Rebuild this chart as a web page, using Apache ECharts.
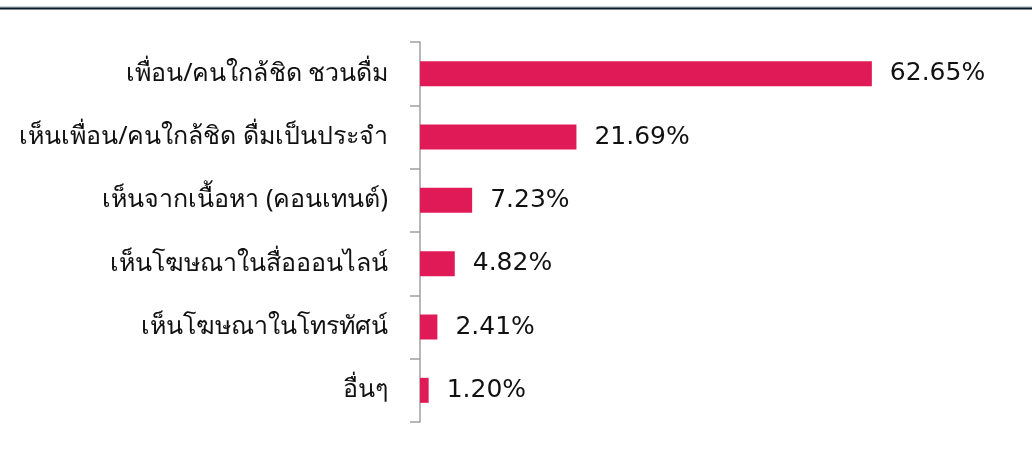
<!DOCTYPE html>
<html>
<head>
<meta charset="utf-8">
<script src="https://cdn.jsdelivr.net/npm/echarts@6/dist/echarts.min.js"></script>
<style>
  html, body { margin: 0; padding: 0; background: #fff; }
  #main { width: 1032px; height: 452px; }
</style>
</head>
<body>
<div id="main"></div>
<script>
// categories, top to bottom
const categories = [
  'เพื่อน/คนใกล้ชิด ชวนดื่ม',
  'เห็นเพื่อน/คนใกล้ชิด ดื่มเป็นประจำ',
  'เห็นจากเนื้อหา (คอนเทนต์)',
  'เห็นโฆษณาในสื่อออนไลน์',
  'เห็นโฆษณาในโทรทัศน์',
  'อื่นๆ'
];
const values = [62.65, 21.69, 7.23, 4.82, 2.41, 1.20];

const chart = echarts.init(document.getElementById('main'));
const fontFam = '"Noto Sans", sans-serif';
const numFont = '"DejaVu Sans", sans-serif';

chart.setOption({
  animation: false,
  graphic: [
    { type: 'line', shape: { x1: 0, y1: 7, x2: 1032, y2: 7 }, style: { stroke: '#9aa3ab', lineWidth: 1 } },
    { type: 'line', shape: { x1: 0, y1: 8.5, x2: 1032, y2: 8.5 }, style: { stroke: '#0b1a26', lineWidth: 2 } }
  ],
  grid: { left: 420, right: 35, top: 42, bottom: 30 },
  xAxis: {
    type: 'value',
    min: 0,
    max: 80,
    show: false
  },
  yAxis: {
    type: 'category',
    inverse: true,
    data: categories,
    axisLine: { show: true, lineStyle: { color: '#a0a0a0', width: 1.5 } },
    axisTick: { show: true, length: 10, lineStyle: { color: '#a0a0a0', width: 1.5 } },
    axisLabel: { margin: 32, fontSize: 25, color: '#111', fontFamily: fontFam }
  },
  series: [{
    type: 'bar',
    data: values,
    barWidth: 25,
    itemStyle: { color: '#e01a56' },
    label: {
      show: true,
      position: 'right',
      distance: 18,
      fontSize: 25,
      color: '#111',
      fontFamily: numFont,
      formatter: p => p.value.toFixed(2) + '%'
    }
  }]
});
</script>
</body>
</html>
